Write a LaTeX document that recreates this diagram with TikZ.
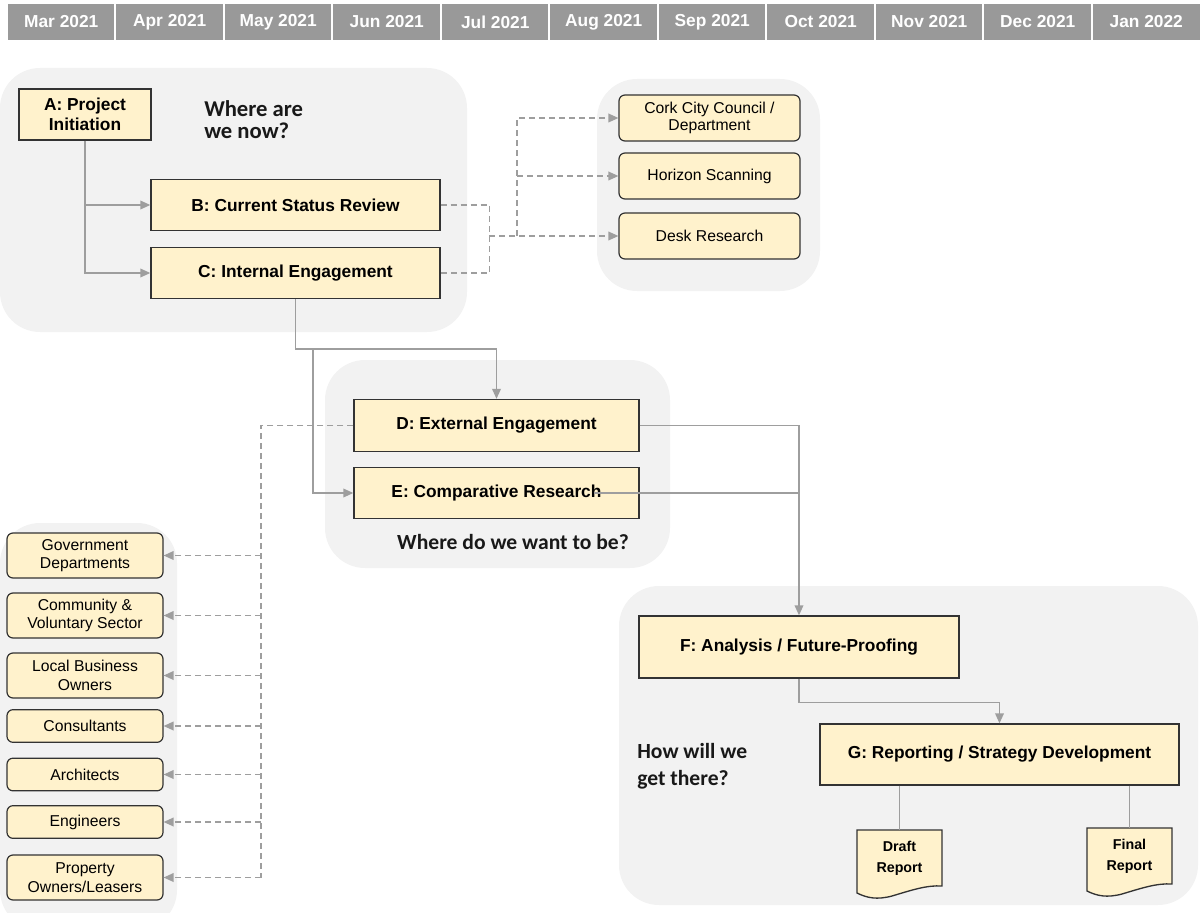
\documentclass[tikz,border=0pt]{standalone}
\usepackage{fontspec}
\setmainfont{Liberation Sans}
\newfontfamily\calibfont{Carlito}
\usetikzlibrary{arrows.meta,calc}

\definecolor{stagefill}{HTML}{FFF2CC}
\definecolor{panelfill}{HTML}{F2F2F2}
\definecolor{linegray}{HTML}{9E9E9E}
\definecolor{monthgray}{HTML}{999999}

\begin{document}
\begin{tikzpicture}[
  x=0.75pt,
  y=-0.75pt,
  panel/.style={fill=panelfill, rounded corners=30pt},
  monthcell/.style={fill=monthgray, draw=white, line width=1.5pt, text=white,
    minimum width=81.4pt, minimum height=29pt, inner sep=0pt,
    font=\bfseries\fontsize{13}{15}\selectfont},
  stage/.style={draw=black!80, line width=1pt, fill=stagefill, align=center, inner sep=2pt,
    font=\bfseries\fontsize{13}{15}\selectfont},
  source/.style={draw=black!80, line width=0.9pt, fill=stagefill, rounded corners=4.5pt,
    align=center, inner sep=1pt, minimum width=135.75pt, minimum height=34.5pt,
    font=\fontsize{11.8}{13.4}\selectfont},
  party/.style={draw=black!80, line width=0.9pt, fill=stagefill, rounded corners=4.5pt,
    align=center, inner sep=1pt, minimum width=117pt,
    font=\fontsize{11.8}{13.8}\selectfont},
  question/.style={align=left, inner sep=0pt, text=black!90},
  docshape/.style={draw=black!80, line width=1pt, fill=stagefill},
  docnode/.style={align=center, inner sep=0pt, minimum width=63.75pt, minimum height=42pt,
    font=\bfseries\fontsize{10.7}{15.5}\selectfont},
  flowline/.style={draw=linegray, line width=1.1pt},
  flow/.style={flowline, -{Triangle[length=7.5pt,width=6.5pt]}},
  dashline/.style={draw=linegray, line width=1.1pt, dash pattern=on 4.5pt off 3pt},
  dasharrow/.style={dashline, -{Triangle[length=7.5pt,width=6.5pt]}}
]
  \useasboundingbox (0,0) rectangle (1203,913);

  % month header
  \foreach \i/\mon in {0/Mar 2021,1/Apr 2021,2/May 2021,3/Jun 2021,4/Jul 2021,5/Aug 2021,
                       6/Sep 2021,7/Oct 2021,8/Nov 2021,9/Dec 2021,10/Jan 2022} {
    \node[monthcell] (m\i) at ({61.25+108.5*\i},22) {\mon};
  }

  % phase panels
  \path[panel] (0,68) rectangle (467,332);
  \path[panel] (597,79) rectangle (820,291);
  \path[panel] (325,360) rectangle (670,568);
  \path[panel] (0,523) rectangle (177,930);
  \path[panel] (619,586) rectangle (1198,905);

  % stages
  \node[stage, minimum width=99pt, minimum height=38.25pt] (A) at (85,114.5) {A: Project\\Initiation};
  \node[stage, minimum width=216.75pt, minimum height=38pt] (B) at (295.5,205) {B: Current Status Review};
  \node[stage, minimum width=216.75pt, minimum height=38pt] (C) at (295.5,273) {C: Internal Engagement};
  \node[stage, minimum width=213.75pt, minimum height=39pt] (D) at (496.5,425.5) {D: External Engagement};
  \node[stage, minimum width=213.75pt, minimum height=38pt] (E) at (496.5,493) {E: Comparative Research};
  \node[stage, minimum width=240pt, minimum height=46.5pt] (F) at (799,647) {F: Analysis / Future-Proofing};
  \node[stage, minimum width=269.25pt, minimum height=45.75pt] (G) at (999.5,754.5) {G: Reporting / Strategy Development};

  % questions
  \node[question, anchor=west, font=\calibfont\bfseries\fontsize{17}{16}\selectfont] (qnow) at (204,119.5) {Where are\\we now?};
  \node[question, font=\calibfont\bfseries\fontsize{16.2}{19}\selectfont] (qwant) at (513,542) {Where do we want to be?};
  \node[question, anchor=west, font=\calibfont\bfseries\fontsize{16.2}{20}\selectfont] (qhow) at (637,766.5) {How will we\\get there?};

  % research sources
  \node[source] (cork) at (709.5,118) {Cork City Council /\\Department};
  \node[source] (horizon) at (709.5,176) {Horizon Scanning};
  \node[source] (desk) at (709.5,236) {Desk Research};

  % external parties
  \node[party, minimum height=33.75pt] (gov) at (85,555.5) {Government\\Departments};
  \node[party, minimum height=33.75pt] (comm) at (85,615.5) {Community \&\\Voluntary Sector};
  \node[party, minimum height=33.75pt] (local) at (85,675.5) {Local Business\\Owners};
  \node[party, minimum height=24.5pt] (cons) at (85,726) {Consultants};
  \node[party, minimum height=24.5pt] (arch) at (85,774.5) {Architects};
  \node[party, minimum height=24.5pt] (eng) at (85,822) {Engineers};
  \node[party, minimum height=33.75pt] (prop) at (85,877.5) {Property\\Owners/Leasers};

  % reports
  \foreach \nm/\dx/\dy/\lbl in {draft/857/830/Draft,final/1087/828/Final} {
    \draw[docshape] (\dx,\dy) -- ({\dx+85},\dy) -- ({\dx+85},{\dy+56})
      .. controls ({\dx+70},{\dy+55}) and ({\dx+55},{\dy+60}) .. ({\dx+35},{\dy+66})
      .. controls ({\dx+20},{\dy+70}) and ({\dx+10},{\dy+68}) .. (\dx,{\dy+63}) -- cycle;
    \node[docnode] (\nm) at ({\dx+42.5},{\dy+28}) {\lbl\\Report};
  }

  % main flow
  \draw[flow] (A.south) |- (C.west);
  \draw[flow] (A.south |- B.west) -- (B.west);
  \coordinate (ebranch) at (313,349);
  \draw[flow] (C.south) -- ++(0,50) -| (D.north);
  \draw[flow] (ebranch) |- (E.west);
  \draw[flow] (D.east) -| (F.north);
  \draw[flowline] ($(E.east)+(-46,0)$) -- (E.east -| F.north);
  \draw[flow] (F.south) -- ++(0,24) -| (G.north);
  \draw[flowline] (G.south -| draft.north) -- (draft.north);
  \draw[flowline] (G.south -| final.north) -- (final.north);

  % internal research links
  \coordinate (bcjoin) at (489,236);
  \coordinate (fan) at (517,236);
  \draw[dashline] (B.east) -- ++(49,0) |- (C.east);
  \draw[dasharrow] (bcjoin) -- (desk.west);
  \draw[dasharrow] (fan) |- (cork.west);
  \draw[dasharrow] (fan |- horizon.west) -- (horizon.west);

  % external engagement links
  \coordinate (bus) at (261,877.5);
  \draw[dashline] (D.west) -| (bus);
  \foreach \n in {gov,comm,local,cons,arch,eng,prop} {
    \draw[dasharrow] (bus |- \n.east) -- (\n.east);
  }
\end{tikzpicture}
\end{document}
